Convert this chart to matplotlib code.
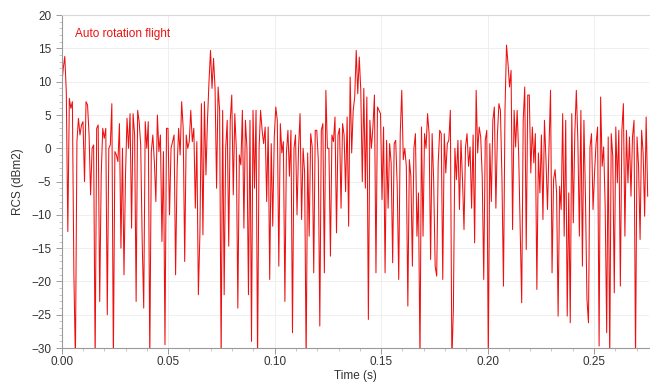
import numpy as np
import matplotlib
matplotlib.use("Agg")
import matplotlib.pyplot as plt
from matplotlib.ticker import MultipleLocator

# RCS trace, one value per sample (dBm2)
# values below the -30 floor are drawn past the axis and clipped
RCS_PART_1 = [9.5, 12, 13.8, 8.5, -12.5, 7.5, 6, 7, -19, -32, 1, 4.5, 2, 3.5, 4, -5, 7, 6.5, 2, -7,
              0, 0.5, -32, 3, 3.5, -23, -4, 3, 1.5, 3, -25, 0, 0.5, 6.7, -32, -0.5, -1, -2, 3.7, -15,
              0, -19, -4, 4.5, 0, 5.2, -12, 5.2, 2, -23, 5.7, 4, 0.5, -14]
RCS_PART_2 = [-24, 4, 0, 4, -32, -0.5, 2, -2, -8, 5, -0.5, 2, -14, -0.5, -29.5, 3, 3, -10, 0, 1,
              2, -19, -3, 3, -1, 7, 3, -17, 2, 0, 1, 5.7, 1, 3, -9, 1, -22, -13, 6.7, -13,
              7, -4, 4.2, 10]
RCS_PART_3 = [14.7, 9, 13.5, 9, -6, 9.2, 5.7, -32, 5.7, -22, 0, 4.2, -14.7, 4.2, 8, -7, 5.2, 0, -24, -1,
              -2.5, 5.7, -12, 4.2, 0, -22, 4.2, -29, 5.7, -6, 5.7, -32, 0, 5.7, 2.7, 0.7, 3.2, -8, 3.2, -19.7,
              0.7, -11.7, 1.7, 6.2, 4.2, -17.7, 3.7, -0.7]
RCS_PART_4 = [1, -23, -0.7, 2.7, -4.2, 2.7, -27.7, 0, 2, -10, 0, 5.2, -10.7, 0, -3.7, -32, -0.7, -13.2, 2.2, 0.2,
              -18.7, 2.7, 2.7, -1.7, -26.7, 2.7, 3.7, -18.7, 8.7, 0, 0, -16.2, 2, 1, 4.7, -12.7, 2, 3, -9, 3.7,
              2, -6.5, 4.7, -11.7, 10.7, -0.7, 5.7, 7.7, 14.7]
RCS_PART_5 = [8.2, 13.7, 8.7, -5, 9, -6, 7.7, -25.7, 4.2, 0, 3.2, 8, -18.7, 6.2, 5.7, 5.2, -7.7, 3.2, -18.7, 1.2,
              -9, 0.7, -2.2, -17.2, 0.7, 1.2, -5.7, -19.7, 2.2, 8.7, -1.7, 0, -2.7, -23.7, -1.7, -4.2, -17.7, 0, 2.2, -13.2,
              -6.7, -32, 3.2, -13.2, 2.2, 0, 5.2, 2.2, -16.7, 2.2, -4.7]
RCS_PART_6 = [-17.7, -19.2, -2.2, 2.7, 2.2, -19.7, 2.2, -3.7, 0.7, 1.2, 5.7, -32, -24.2, 0, -4.7, 1.2, -9.2, 1.2, -4.7, -12.2,
              0.2, 2.2, -2.7, 0.2, -9, 2, -14.2, 8.7, -0.7, 3.2, 1.7, -4.2, -19.7, 1.2, 2.7, -32, 0.7, -8, 4.2, 6.2,
              -9, 2, 6.7, 5.7, -4.5, -20.7, 5.7, 15.5]
RCS_PART_7 = [12.7, 9.2, 11.7, -12.2, 5.7, 0.2, 5.7, -0.7, -11.7, -23.2, 4.2, 9.2, -15.2, 8, 8, -3.7, 3.2, -2.2, 2.2, -21.2,
              -0.7, -6.7, 2, -10.7, 4.2, -1.7, -9.2, 0.2, 8.7, -18.7, -4.7, -3.2, -6.7, -25.2, -5.7, -9.2, 5.2, -13.2, 4.2, -25.2,
              -6.7, -26.2, 5.2, -11.2, 2.2, 8.7, 1.2, -13.2, 5.7, -17.7, 4.2]
RCS_PART_8 = [-7.2, -22.7, -26.2, 0.2, 2.2, -9.2, -3.7, 0.7, 3.2, -29.7, 7.7, -2.7, 0.2, -8.7, -27.7, 1.7, -32, 2.2, -1.2, -21.7,
              3.2, -5.2, 2.7, -20.7, 2.7, 6.7, -13.2, 2.7, -5.2, 1.7, -7.2, 1.7, 4.2, -32, 1.7, -2.7, -13.7, 2.7, -0.7, -10.2,
              4.7, -7.2]

SAMPLE_DT = 0.000713  # s between samples
LABEL = "Auto rotation flight"

rcs = np.array(RCS_PART_1 + RCS_PART_2 + RCS_PART_3 + RCS_PART_4 +
               RCS_PART_5 + RCS_PART_6 + RCS_PART_7 + RCS_PART_8)
t = np.arange(len(rcs)) * SAMPLE_DT

plt.rcParams["font.family"] = ["Liberation Sans", "DejaVu Sans"]

fig = plt.figure(figsize=(6.5, 3.88), dpi=100)
ax = fig.add_axes([0.095, 0.103, 0.903, 0.858])

ax.plot(t, rcs, color="#ee1010", lw=0.75)

ax.set_xlim(0, 0.2757)
ax.set_ylim(-30, 20)
ax.xaxis.set_major_locator(MultipleLocator(0.05))
ax.xaxis.set_minor_locator(MultipleLocator(0.01))
ax.yaxis.set_major_locator(MultipleLocator(5))
ax.yaxis.set_minor_locator(MultipleLocator(1))
ax.xaxis.set_major_formatter(plt.FuncFormatter(lambda v, p: f"{v:.2f}"))

ax.grid(True, which="major", color="#ececec", lw=0.6)
ax.set_axisbelow(True)

for side in ["left", "bottom"]:
    ax.spines[side].set_color("#9a9a9a")
    ax.spines[side].set_linewidth(0.8)
ax.spines["top"].set_color("#d8d8d8")
ax.spines["right"].set_visible(False)

ax.tick_params(which="major", direction="out", length=4, width=0.7, color="#9a9a9a",
               labelsize=8.5, labelcolor="#333333")
ax.tick_params(which="minor", direction="out", length=2, width=0.5, color="#b0b0b0")
ax.tick_params(axis="x", pad=1.5)

ax.set_xlabel("Time (s)", fontsize=8.5, color="#333333", labelpad=2)
ax.set_ylabel("RCS (dBm2)", fontsize=8.5, color="#333333", labelpad=5)

ax.text(0.022, 0.96, LABEL, transform=ax.transAxes, color="#ee1111",
        fontsize=8.5, va="top", ha="left")

fig.savefig("out.png", dpi=100)
